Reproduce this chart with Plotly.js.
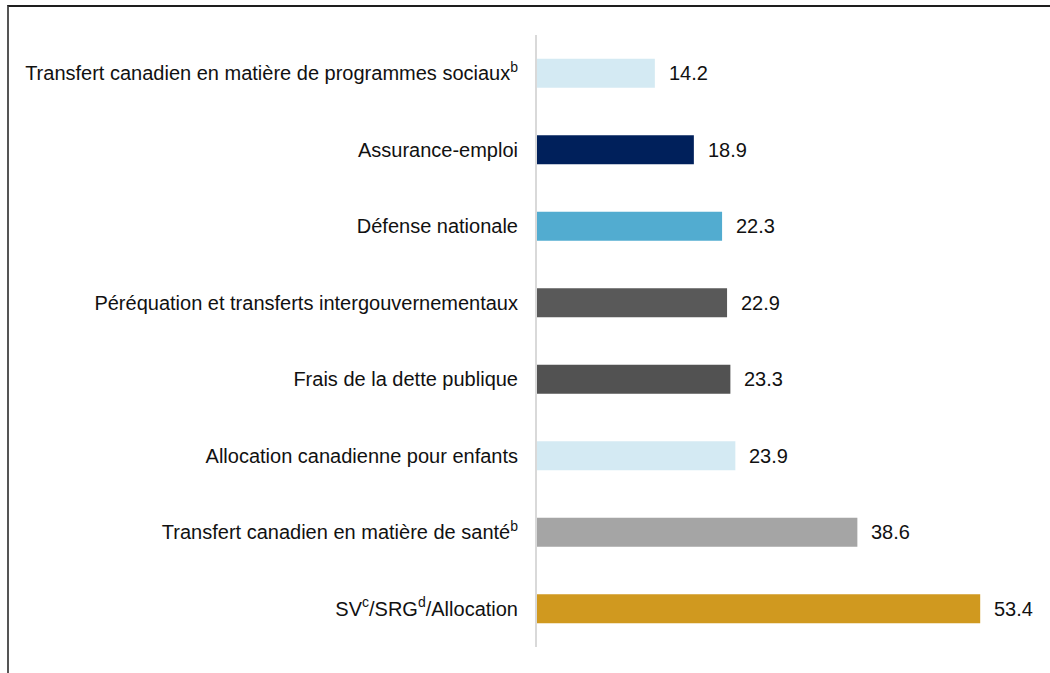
<!DOCTYPE html>
<html>
<head>
<meta charset="utf-8">
<script src="https://cdn.plot.ly/plotly-3.0.1.min.js"></script>
<style>
  html, body { margin: 0; padding: 0; background: #fff; }
  #wrap { position: relative; width: 1050px; height: 673px; overflow: hidden; }
  #chart { position: absolute; left: 0; top: 0; width: 1050px; height: 673px; }
  #frame { position: absolute; left: 7px; top: 5px; width: 1100px; height: 700px;
           border-top: 2px solid #1e1e1e; border-left: 2px solid #555; box-sizing: border-box; pointer-events: none; }
</style>
</head>
<body>
<div id="wrap">
  <div id="chart"></div>
  <div id="frame"></div>
</div>
<script>
const categories = [
  "Transfert canadien en matière de programmes sociaux<sup>b</sup>",
  "Assurance-emploi",
  "Défense nationale",
  "Péréquation et transferts intergouvernementaux",
  "Frais de la dette publique",
  "Allocation canadienne pour enfants",
  "Transfert canadien en matière de santé<sup>b</sup>",
  "SV<sup>c</sup>/SRG<sup>d</sup>/Allocation"
];
const values = [14.2, 18.9, 22.3, 22.9, 23.3, 23.9, 38.6, 53.4];
const valueLabels = ["14.2", "18.9", "22.3", "22.9", "23.3", "23.9", "38.6", "53.4"];
const barColors = ["#d4eaf3", "#00205b", "#52acd0", "#595959", "#525252", "#d4eaf3", "#a5a5a5", "#d0991f"];

const trace = {
  type: "bar",
  orientation: "h",
  y: categories,
  x: values,
  marker: { color: barColors, line: { width: 0 } },
  hoverinfo: "skip"
};

const annotations = values.map((v, i) => ({
  x: v, y: categories[i], xref: "x", yref: "y",
  text: valueLabels[i], showarrow: false,
  xanchor: "left", yanchor: "middle", xshift: 12,
  font: { family: "Liberation Sans, Arial, sans-serif", size: 20, color: "#111" }
}));

const layout = {
  width: 1050, height: 673,
  margin: { l: 537, r: 20, t: 35, b: 26, pad: 0 },
  paper_bgcolor: "#ffffff",
  plot_bgcolor: "#ffffff",
  showlegend: false,
  bargap: 0.62,
  font: { family: "Liberation Sans, Arial, sans-serif", size: 20, color: "#111" },
  xaxis: {
    range: [0, 59.4], showgrid: false, zeroline: false, showline: false,
    showticklabels: false, ticks: "", fixedrange: true
  },
  yaxis: {
    autorange: "reversed", showgrid: false, zeroline: false,
    showline: true, linecolor: "#d9d9d9", linewidth: 2,
    ticks: "", ticklabelstandoff: 13,
    tickfont: { family: "Liberation Sans, Arial, sans-serif", size: 20, color: "#111" },
    fixedrange: true
  },
  annotations: annotations
};

Plotly.newPlot("chart", [trace], layout, { displayModeBar: false, staticPlot: true });
</script>
</body>
</html>
